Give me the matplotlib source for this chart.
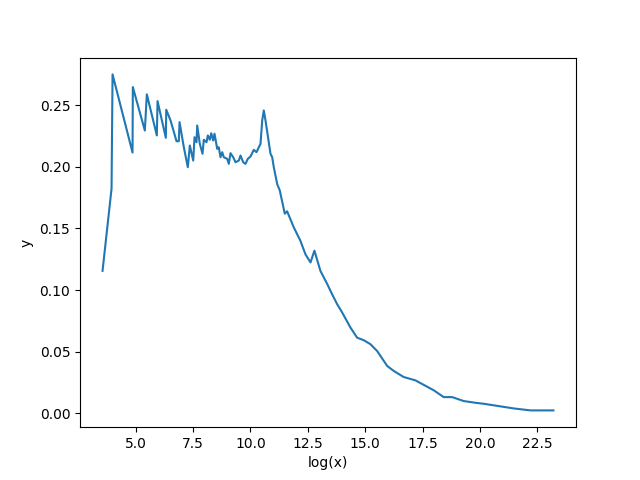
import matplotlib
matplotlib.use("Agg")
import matplotlib.pyplot as plt

# valores
log_x = [3.563, 3.955, 3.999, 4.869, 4.882, 5.405, 5.492, 5.927, 5.958, 6.319,
         6.337, 6.524, 6.785, 6.885, 6.916, 7.103, 7.277, 7.364, 7.512, 7.569,
         7.656, 7.686, 7.799, 7.917, 7.973, 8.091, 8.148, 8.235, 8.296, 8.383,
         8.439, 8.557, 8.626, 8.700, 8.775, 8.844, 8.992, 9.062, 9.136, 9.253,
         9.354, 9.497, 9.571, 9.689, 9.789, 9.889, 10.007, 10.150, 10.268, 10.368,
         10.442, 10.516, 10.586, 10.660, 10.877, 10.951, 11.021, 11.17, 11.28, 11.50,
         11.60, 11.89, 12.18, 12.40, 12.62, 12.79, 13.05, 13.35, 13.56, 13.78,
         14.00, 14.36, 14.65, 14.94, 15.23, 15.52, 15.96, 16.25, 16.68, 17.19,
         17.99, 18.42, 18.79, 19.29, 19.80, 20.16, 21.47, 22.20, 23.20]

y = [0.1156, 0.1824, 0.2752, 0.2117, 0.2649, 0.2296, 0.2590, 0.2256, 0.2535, 0.2237,
     0.2465, 0.2378, 0.2209, 0.2209, 0.2364, 0.2160, 0.1998, 0.2174, 0.2052, 0.2242,
     0.2201, 0.2337, 0.2188, 0.2107, 0.2221, 0.2201, 0.2256, 0.2221, 0.2274, 0.2215,
     0.2270, 0.2147, 0.2160, 0.2079, 0.2120, 0.2079, 0.2066, 0.2025, 0.2112, 0.2079,
     0.2038, 0.2052, 0.2093, 0.2038, 0.2025, 0.2066, 0.2085, 0.2139, 0.2120, 0.2160,
     0.2188, 0.2378, 0.2459, 0.2378, 0.2107, 0.2079, 0.1998, 0.1860, 0.1810, 0.1620,
     0.1640, 0.1510, 0.1400, 0.1290, 0.1224, 0.1320, 0.1156, 0.1048, 0.0966, 0.0885,
     0.0817, 0.0695, 0.0613, 0.0592, 0.0560, 0.0505, 0.0383, 0.0342, 0.0293, 0.0266,
     0.0185, 0.0130, 0.0130, 0.0098, 0.0084, 0.0076, 0.0038, 0.0022, 0.0022]


def grafica(xs, ys):
    plt.figure(figsize=(6.4, 4.8), dpi=100)
    plt.plot(xs, ys)
    plt.xlabel("log(x)")
    plt.ylabel("y")
    plt.savefig("out.png")


if __name__ == "__main__":
    grafica(log_x, y)
